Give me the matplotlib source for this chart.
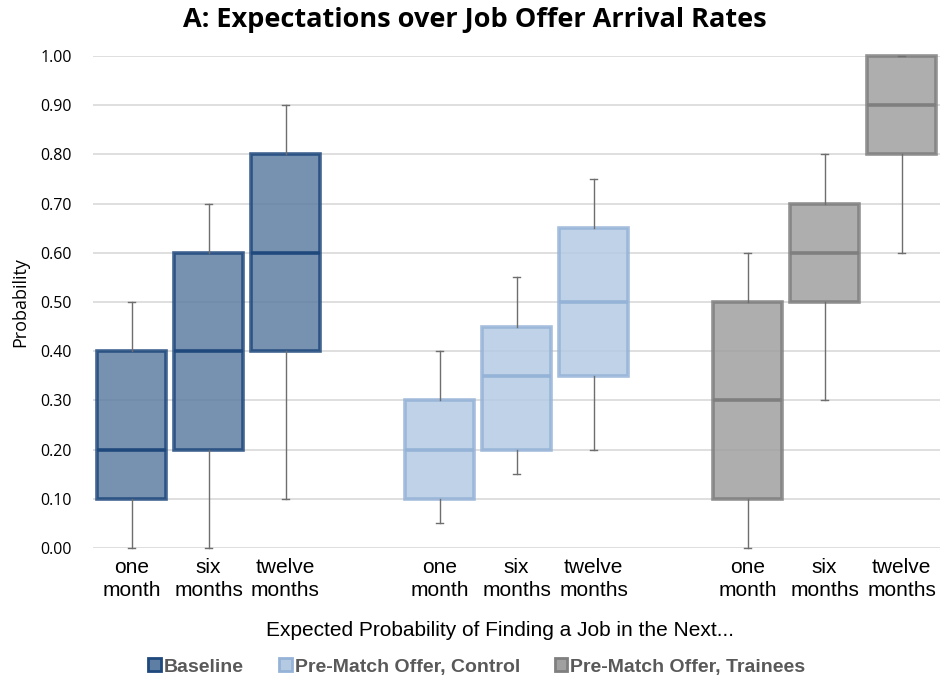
import matplotlib
matplotlib.use("Agg")
import matplotlib.pyplot as plt
from matplotlib.patches import Patch

horizons = ["one\nmonth", "six\nmonths", "twelve\nmonths"]
groups = ["Baseline", "Pre-Match Offer, Control", "Pre-Match Offer, Trainees"]

# whisker low, q1, median, q3, whisker high per horizon
baseline = [[0.00, 0.10, 0.20, 0.40, 0.50],
            [0.00, 0.20, 0.40, 0.60, 0.70],
            [0.10, 0.40, 0.60, 0.80, 0.90]]
control = [[0.05, 0.10, 0.20, 0.30, 0.40],
           [0.15, 0.20, 0.35, 0.45, 0.55],
           [0.20, 0.35, 0.50, 0.65, 0.75]]
trainees = [[0.00, 0.10, 0.30, 0.50, 0.60],
            [0.30, 0.50, 0.60, 0.70, 0.80],
            [0.60, 0.80, 0.90, 1.00, 1.00]]

edge_colors = ["#1F497D", "#95B3D7", "#7F7F7F"]
face_colors = ["#5F7EA3", "#B4CAE3", "#A0A0A0"]

fig = plt.figure(figsize=(9.51, 6.81), dpi=100)
ax = fig.add_axes([93 / 951, 1 - 548 / 681, 847 / 951, 492 / 681])

ax.set_axisbelow(True)
ax.grid(axis="y", color="#D9D9D9", lw=1.2)

pos = 0
ticks, labels = [], []
for series, ec, fc in zip([baseline, control, trainees], edge_colors, face_colors):
    stats = []
    positions = []
    for h, vals in zip(horizons, series):
        lo, q1, med, q3, hi = vals
        stats.append(dict(whislo=lo, q1=q1, med=med, q3=q3, whishi=hi, fliers=[]))
        positions.append(pos)
        ticks.append(pos)
        labels.append(h)
        pos += 1
    pos += 1
    ax.bxp(stats, positions=positions, widths=0.9, capwidths=0.1,
           showfliers=False, patch_artist=True,
           boxprops=dict(facecolor=fc, edgecolor=ec, lw=2.6, alpha=0.85),
           medianprops=dict(color=ec, lw=2.6),
           whiskerprops=dict(color="#6E6E6E", lw=1),
           capprops=dict(color="#6E6E6E", lw=1))

for art in ax.patches + ax.lines:
    art.set_clip_on(False)

ax.set_xlim(-0.5, 10.5)
ax.set_ylim(0, 1.0)
ax.set_yticks([i / 10 for i in range(11)])
ax.set_yticklabels([f"{i / 10:.2f}" for i in range(11)], fontfamily="Open Sans", fontsize=11.5)
ax.set_xticks(ticks)
ax.set_xticklabels(labels, fontfamily="Liberation Sans", fontsize=15, linespacing=1.3)
ax.tick_params(axis="x", length=0, pad=7)
ax.tick_params(axis="y", length=0, pad=15)
for s in ax.spines.values():
    s.set_visible(False)

fig.text(475 / 951, 1 - 20 / 681, "A: Expectations over Job Offer Arrival Rates",
         fontfamily="Open Sans", fontweight="bold", fontsize=19.5, ha="center", va="center")
fig.text(500 / 951, 1 - 630 / 681, "Expected Probability of Finding a Job in the Next...",
         fontfamily="Liberation Sans", fontsize=15, ha="center", va="center")
fig.text(20 / 951, 1 - 302 / 681, "Probability", fontfamily="Open Sans", fontsize=13,
         rotation=90, ha="center", va="center")

handles = [Patch(facecolor=fc, edgecolor=ec, lw=2) for ec, fc in zip(edge_colors, face_colors)]
fig.legend(handles, groups, loc="center", bbox_to_anchor=(477 / 951, 1 - 667 / 681),
           ncol=3, frameon=False, handlelength=0.65, handleheight=0.65, handletextpad=0.15,
           columnspacing=1.8, prop=dict(family="Liberation Sans", weight="bold", size=14),
           labelcolor="#595959")

fig.savefig("out.png", dpi=100)
